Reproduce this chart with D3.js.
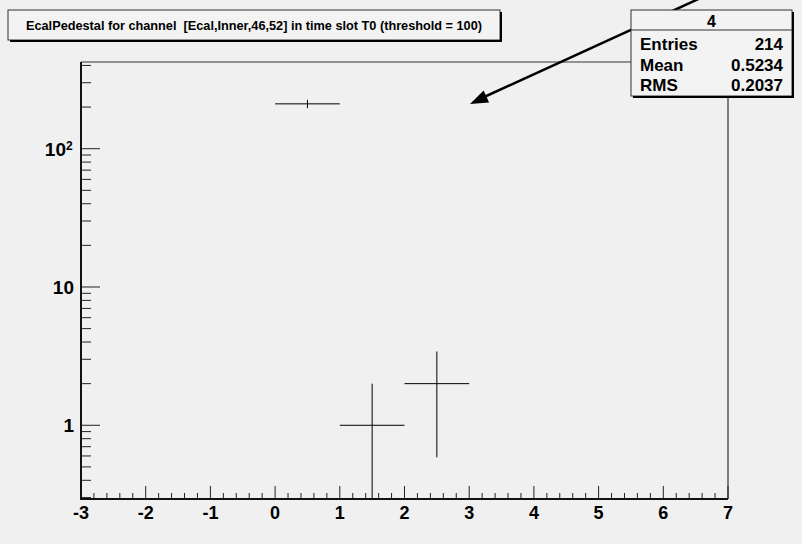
<!DOCTYPE html>
<html lang="en">
  <head>
    <meta charset="UTF-8" />
    <title>EcalPedestal</title>
    <script src="https://d3js.org/d3.v7.min.js"></script>
    <style>
      body { margin: 0; background: #f0f0f0; }
      text { font-family: "Liberation Sans", Arial, sans-serif; font-weight: bold; white-space: pre; }
    </style>
  </head>
  <body>
    <div id="chart"></div>
    <script>
      // Histogram data (bin low edges, contents, errors)
      const binLow = [0, 1, 2];
      const binWidth = 1;
      const counts = [211, 1, 2];
      const errors = [14.5, 1, 1.414];

      // Axis ticks
      const xTicks = [-3, -2, -1, 0, 1, 2, 3, 4, 5, 6, 7];
      const yMajor = [1, 10, 100];
      const yLabels = ["1", "10", "10"];

      // stats box
      const statsTitle = "4";
      const statNames = ["Entries", "Mean", "RMS"];
      const statValues = ["214", "0.5234", "0.2037"];

      const titleText = "EcalPedestal for channel  [Ecal,Inner,46,52] in time slot T0 (threshold = 100)";

      const width = 802, height = 544;
      const plotLeft = 81, plotRight = 728, plotTop = 62, plotBottom = 499;

      const svg = d3.select("#chart").append("svg")
        .attr("width", width).attr("height", height);

      svg.append("rect").attr("width", width).attr("height", height).attr("fill", "#f0f0f0");

      const x = d3.scaleLinear().domain([-3, 7]).range([plotLeft, plotRight]);
      const y = d3.scaleLog().domain([0.293, 423.6]).range([plotBottom, plotTop]);

      // frame top & right
      svg.append("path")
        .attr("d", `M${plotLeft},${plotTop}H${plotRight}V${plotBottom}`)
        .attr("fill", "none").attr("stroke", "#333").attr("stroke-width", 1.2);

      // x ticks: major + 4 minor per unit
      const xg = svg.append("g");
      for (let i = 0; i < xTicks.length; i++) {
        const v = xTicks[i];
        xg.append("line").attr("x1", x(v)).attr("x2", x(v))
          .attr("y1", plotBottom).attr("y2", plotBottom - 13)
          .attr("stroke", "#222").attr("stroke-width", 1);
        xg.append("text").attr("x", x(v)).attr("y", 519)
          .attr("text-anchor", "middle").attr("font-size", 18).text(v);
        if (i < xTicks.length - 1) {
          for (let k = 1; k < 5; k++) {
            const m = v + k * 0.2;
            xg.append("line").attr("x1", x(m)).attr("x2", x(m))
              .attr("y1", plotBottom).attr("y2", plotBottom - 6)
              .attr("stroke", "#222").attr("stroke-width", 1);
          }
        }
      }

      // y ticks (log)
      const yg = svg.append("g");
      const [y0, y1] = y.domain();
      for (let e = -1; e <= 2; e++) {
        for (let m = 1; m <= 9; m++) {
          const v = m * Math.pow(10, e);
          if (v < y0 || v > y1) continue;
          const major = m === 1;
          yg.append("line").attr("x1", plotLeft).attr("x2", plotLeft + (major ? 19 : 10))
            .attr("y1", y(v)).attr("y2", y(v))
            .attr("stroke", "#222").attr("stroke-width", 1);
        }
      }
      yMajor.forEach((v, i) => {
        yg.append("text").attr("x", v === 100 ? 66 : 74).attr("y", y(v) + 7)
          .attr("text-anchor", "end").attr("font-size", 19).text(yLabels[i]);
        if (v === 100) {
          yg.append("text").attr("x", 66).attr("y", y(v) + 1)
            .attr("font-size", 12).text("2");
        }
      });

      // axes lines
      svg.append("path")
        .attr("d", `M${plotLeft},${plotTop}V${plotBottom}H${plotRight}`)
        .attr("fill", "none").attr("stroke", "#111").attr("stroke-width", 2);

      // histogram marks
      const hg = svg.append("g").attr("stroke", "#000").attr("stroke-width", 1);
      binLow.forEach((b, i) => {
        const c = counts[i];
        const cx = x(b + binWidth / 2);
        hg.append("line").attr("x1", x(b)).attr("x2", x(b + binWidth))
          .attr("y1", y(c)).attr("y2", y(c));
        const lo = c - errors[i];
        hg.append("line").attr("x1", cx).attr("x2", cx)
          .attr("y1", lo > y0 ? y(lo) : plotBottom).attr("y2", y(c + errors[i]));
      });

      // arrow
      const tip = [470, 104];
      const tail = [740, -20];
      svg.append("line").attr("x1", tail[0]).attr("y1", tail[1])
        .attr("x2", tip[0] + 12).attr("y2", tip[1] - 6)
        .attr("stroke", "#000").attr("stroke-width", 2.5);
      const ang = Math.atan2(tail[1] - tip[1], tail[0] - tip[0]);
      const L = 18, W = 6.5;
      const bx = tip[0] + L * Math.cos(ang), by = tip[1] + L * Math.sin(ang);
      svg.append("polygon")
        .attr("points", [
          tip,
          [bx + W * Math.sin(ang), by - W * Math.cos(ang)],
          [bx - W * Math.sin(ang), by + W * Math.cos(ang)]
        ].map(p => p.join(",")).join(" "))
        .attr("fill", "#000");

      // title box
      const tb = { x0: 8, y0: 10, x1: 500, y1: 40 };
      svg.append("rect").attr("x", tb.x0).attr("y", tb.y0)
        .attr("width", tb.x1 - tb.x0).attr("height", tb.y1 - tb.y0)
        .attr("fill", "#f3f3f3").attr("stroke", "#333").attr("stroke-width", 1);
      svg.append("path").attr("d", `M${tb.x0 + 2},${tb.y1 + 1}H${tb.x1 + 1}V${tb.y0 + 2}`)
        .attr("fill", "none").attr("stroke", "#000").attr("stroke-width", 2);
      svg.append("text").attr("x", (tb.x0 + tb.x1) / 2).attr("y", 30)
        .attr("text-anchor", "middle").attr("font-size", 12.5)
        .attr("textLength", 456).attr("lengthAdjust", "spacingAndGlyphs")
        .text(titleText);

      // stats box
      const sb = { x0: 631, y0: 10, x1: 792, y1: 96 };
      svg.append("rect").attr("x", sb.x0).attr("y", sb.y0)
        .attr("width", sb.x1 - sb.x0).attr("height", sb.y1 - sb.y0)
        .attr("fill", "#f3f3f3").attr("stroke", "#333").attr("stroke-width", 1);
      svg.append("path").attr("d", `M${sb.x0 + 2},${sb.y1 + 1}H${sb.x1 + 1}V${sb.y0 + 2}`)
        .attr("fill", "none").attr("stroke", "#000").attr("stroke-width", 2);
      svg.append("line").attr("x1", sb.x0).attr("x2", sb.x1)
        .attr("y1", 30).attr("y2", 30).attr("stroke", "#333");
      svg.append("text").attr("x", (sb.x0 + sb.x1) / 2).attr("y", 27)
        .attr("text-anchor", "middle").attr("font-size", 16).text(statsTitle);
      statNames.forEach((n, i) => {
        const rowY = 50 + i * 20.5;
        svg.append("text").attr("x", 640).attr("y", rowY).attr("font-size", 17).text(n);
        svg.append("text").attr("x", 783).attr("y", rowY)
          .attr("text-anchor", "end").attr("font-size", 17).text(statValues[i]);
      });
    </script>
  </body>
</html>
